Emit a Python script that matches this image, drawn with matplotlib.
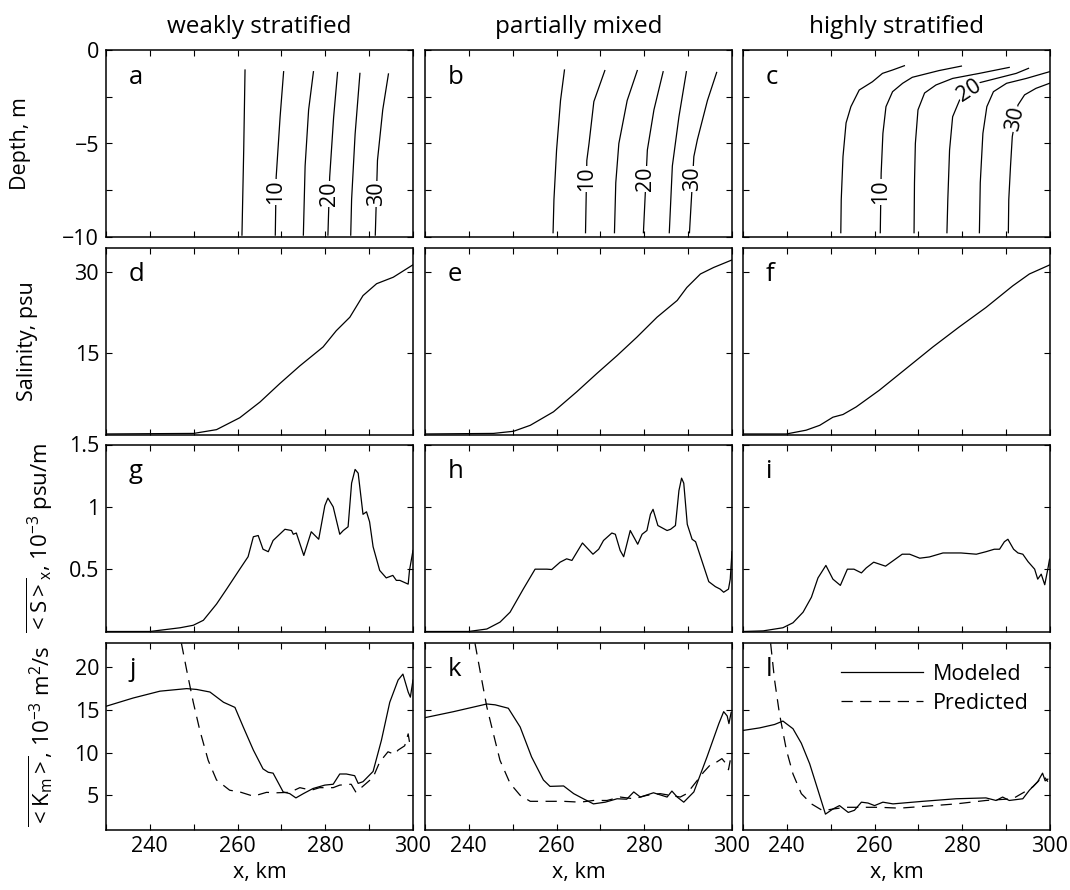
import numpy as np
import matplotlib
matplotlib.use("Agg")
import matplotlib.pyplot as plt

plt.rcParams['font.family'] = ['Open Sans', 'DejaVu Sans']
plt.rcParams['mathtext.fontset'] = 'custom'
plt.rcParams['mathtext.rm'] = 'Open Sans'
plt.rcParams['mathtext.it'] = 'Open Sans:italic'
plt.rcParams['font.size'] = 15.5

titles = ['weakly stratified', 'partially mixed', 'highly stratified']
letters = ['abc', 'def', 'ghi', 'jkl']

# isohaline positions (x km, depth m), levels 5..30 psu, one list per panel
iso_a = [
    ([261.7, 261.4, 261.0], [-1.07, -5.35, -9.9]),
    ([270.5, 269.7, 268.8, 268.6], [-1.16, -3.57, -6.8, -9.9]),
    ([277.3, 276.2, 275.4, 275.0], [-1.16, -3.2, -6.2, -9.9]),
    ([282.8, 281.9, 281.0, 280.6], [-1.2, -3.6, -6.8, -9.9]),
    ([287.9, 286.8, 286.0, 285.8], [-1.25, -4.5, -8.0, -9.9]),
    ([294.4, 293.1, 291.9, 291.4], [-1.28, -3.2, -5.9, -9.9]),
]
iso_b = [
    ([261.8, 260.9, 260.0, 259.4, 259.2], [-1.07, -2.7, -5.35, -8.0, -9.77]),
    ([271.0, 268.5, 267.4, 266.9, 266.6], [-1.1, -2.76, -5.0, -5.9, -9.77]),
    ([278.4, 276.1, 274.2, 273.5, 273.2], [-1.1, -2.7, -5.0, -7.1, -9.77]),
    ([284.3, 282.2, 280.7, 279.8], [-1.16, -3.2, -5.35, -9.77]),
    ([289.6, 287.9, 286.4, 285.7], [-1.16, -3.57, -6.2, -9.77]),
    ([296.5, 294.4, 292.1, 291.3, 290.3], [-1.2, -2.7, -4.8, -5.7, -9.77]),
]
iso_c = [
    ([266.8, 264.1, 261.8, 259.5, 256.5, 254.6, 253.5, 252.8, 252.4, 252.3],
     [-0.84, -1.07, -1.25, -1.7, -2.14, -3.03, -3.9, -5.7, -8.0, -9.77]),
    ([279.8, 274.7, 268.6, 266.4, 264.1, 262.6, 261.9, 261.5, 261.3],
     [-0.86, -1.1, -1.46, -1.78, -2.23, -3.03, -4.46, -6.6, -9.77]),
    ([290.7, 283.9, 277.8, 274.0, 271.4, 269.9, 269.3, 269.1, 269.0],
     [-0.93, -1.25, -1.52, -1.87, -2.3, -3.2, -5.0, -7.1, -9.77]),
    ([295.1, 292.3, 283.9, 279.4, 277.8, 277.1, 276.7, 276.5],
     [-0.98, -1.25, -1.75, -2.67, -3.57, -5.35, -8.0, -9.77]),
    ([299.9, 294.6, 290.1, 287.1, 285.6, 284.7, 284.1, 283.9],
     [-1.16, -1.52, -1.78, -2.23, -3.03, -4.46, -7.1, -9.77]),
    ([299.9, 296.8, 294.2, 292.7, 291.4, 291.0, 290.6, 290.5],
     [-1.78, -2.05, -2.4, -2.94, -4.63, -6.2, -8.0, -9.77]),
]
# contour labels: (line index, text, depth, rotation)
lab_a = [(1, '10', -7.6, 90), (3, '20', -7.7, 90), (5, '30', -7.7, 90)]
lab_b = [(1, '10', -6.9, 90), (3, '20', -6.9, 90), (5, '30', -6.9, 90)]
lab_c = [(1, '10', -7.6, 90), (3, '20', -2.2, 33), (5, '30', -3.7, 78)]

# depth-averaged salinity
sal_x_d = [230, 250, 255.2, 260.5, 265.1, 269.6, 274.2, 279.5, 282.5, 285.6, 288.6, 291.7, 295.5, 300]
sal_d = [0.1, 0.2, 0.9, 3.1, 6.0, 9.4, 12.7, 16.2, 19.2, 21.7, 25.7, 27.9, 29.1, 31.4]
sal_x_e = [230, 245.6, 250.2, 254, 259.3, 264.6, 269.2, 273.8, 278.3, 282.9, 287.5, 289.7, 292.8, 295.8, 300]
sal_e = [0.1, 0.2, 0.6, 1.7, 4.2, 7.9, 11.3, 14.6, 18.0, 21.7, 24.8, 27.2, 29.7, 30.9, 32.3]
sal_x_f = [230, 239.9, 244.4, 247.5, 250.5, 252.8, 255.8, 261.1, 267.2, 273.3, 279.3, 285.4, 291.5, 295.3, 300]
sal_f = [0.1, 0.1, 0.8, 1.7, 3.2, 3.7, 5.1, 8.2, 12.2, 16.2, 19.9, 23.5, 27.5, 29.7, 31.4]

# along-channel salinity gradient, 1e-3 psu/m
sx_x_g = [230, 240, 246.9, 249.9, 252.2, 255.2, 257.5, 260.5, 262.4, 263.6, 264.7, 265.8, 267,
          268.1, 269.3, 270.8, 272.3, 272.7, 273.4, 275.1, 276.8, 278.5, 279.9, 280.6, 281.8,
          283.3, 284.1, 285.2, 286, 286.8, 287.5, 288.6, 289.4, 290.1, 290.9, 292.4, 293.9,
          295.4, 296.2, 297, 298.9, 299.2, 300]
sx_g = [0.0, 0.0, 0.03, 0.05, 0.09, 0.22, 0.34, 0.50, 0.60, 0.76, 0.77, 0.66, 0.64,
        0.73, 0.77, 0.82, 0.81, 0.78, 0.79, 0.61, 0.80, 0.74, 1.01, 1.07, 1.00,
        0.78, 0.81, 0.84, 1.19, 1.30, 1.27, 0.94, 0.96, 0.88, 0.68, 0.49, 0.43,
        0.45, 0.41, 0.41, 0.38, 0.49, 0.65]
sx_x_h = [230, 239.9, 244.1, 247.1, 249.4, 252.4, 255.1, 257.8, 258.9, 260.8, 262.3, 263.5,
          265.9, 268.3, 269.6, 270.7, 272.6, 273.4, 274.5, 275.3, 276.8, 278.5, 279.5, 280.6,
          281.4, 282, 283.1, 285.2, 286, 287.1, 287.9, 288.5, 289, 289.8, 290.9, 291.7,
          293.2, 294.7, 296.2, 297.3, 298.1, 299.2, 299.6, 300]
sx_h = [0.0, 0.0, 0.02, 0.075, 0.155, 0.34, 0.50, 0.50, 0.497, 0.556, 0.583, 0.57,
        0.71, 0.62, 0.66, 0.73, 0.79, 0.78, 0.65, 0.60, 0.81, 0.70, 0.78, 0.81,
        0.94, 0.98, 0.85, 0.81, 0.82, 0.85, 1.13, 1.23, 1.19, 0.86, 0.74, 0.72,
        0.56, 0.40, 0.36, 0.34, 0.315, 0.34, 0.42, 0.64]
sx_x_i = [230, 234.6, 239.1, 241.4, 243.7, 245.6, 247.1, 248.9, 250.5, 252.2, 253.8, 255.3,
          257, 258.1, 259.8, 262.5, 264.6, 266.3, 268, 270.3, 272.5, 275.6, 279.7, 283.2,
          285.4, 287.3, 288.5, 289.6, 290.4, 291.7, 292.7, 293.8, 295, 296.5, 297.2, 298,
          298.8, 299.5, 299.9]
sx_i = [0.0, 0.005, 0.03, 0.07, 0.155, 0.275, 0.43, 0.53, 0.42, 0.37, 0.50, 0.50,
        0.47, 0.51, 0.556, 0.524, 0.577, 0.62, 0.62, 0.588, 0.598, 0.63, 0.63, 0.62,
        0.64, 0.66, 0.66, 0.72, 0.74, 0.66, 0.63, 0.62, 0.56, 0.50, 0.42, 0.46,
        0.375, 0.50, 0.58]

# eddy viscosity, 1e-3 m2/s: modeled and predicted
km_x_j = [230, 236.2, 242.3, 248.4, 250.7, 253.7, 256.8, 259.4, 261.3, 263.6, 265.8, 267,
          268.1, 270.4, 271.9, 273.3, 275, 277.2, 279.9, 281.8, 283.3, 284.8, 286.7, 287.5,
          288.6, 290.9, 292.8, 294.7, 296.6, 297.7, 298.9, 299.4, 300]
km_j = [15.43, 16.4, 17.2, 17.5, 17.4, 17.1, 15.9, 15.3, 13.0, 10.3, 8.1, 7.7,
        7.6, 5.4, 5.2, 4.7, 5.2, 5.8, 6.2, 6.3, 7.5, 7.5, 7.3, 6.4,
        6.6, 7.8, 11.45, 15.9, 18.5, 19.2, 17.1, 16.5, 18.5]
kp_x_j = [247.2, 248.4, 249.9, 251.4, 253.3, 255.2, 258.2, 260.5, 263.6, 266.6, 268.9, 271.9,
          274.2, 276.8, 278.7, 281.8, 283.3, 285.9, 287, 288.2, 290.9, 292.4, 294.3, 295.8,
          296.6, 298.1, 298.9, 299.4]
kp_j = [22.8, 19.65, 15.9, 12.6, 9.1, 6.8, 5.6, 5.4, 4.9, 5.35, 5.3, 5.35,
        5.9, 5.6, 5.9, 5.9, 6.2, 6.3, 5.35, 5.9, 7.1, 8.9, 10.1, 9.8,
        10.3, 10.8, 12.2, 10.6]
km_x_k = [230, 236.5, 244.1, 246, 249, 251.7, 254.3, 257, 258.5, 261.6, 263.9, 266.1,
          268.4, 271.1, 273.8, 276, 277.6, 279.1, 282.1, 285.2, 286.3, 287.5, 289, 291.3,
          294.3, 297, 298.1, 298.9, 299.3, 299.8]
km_k = [14.1, 14.8, 15.7, 15.6, 15.2, 13.0, 9.5, 6.8, 6.05, 6.1, 5.2, 4.6,
        4.0, 4.2, 4.6, 4.55, 5.4, 4.8, 5.3, 4.8, 5.5, 4.8, 4.2, 5.4,
        9.5, 13.4, 14.8, 14.3, 13.4, 14.7]
kp_x_k = [241.4, 242.6, 244.1, 245.6, 247.1, 249.4, 251.7, 254, 257.8, 261.6, 265.4, 268.4,
          271.5, 274.5, 277.6, 280.6, 283.6, 285.9, 288.2, 289.7, 292, 293.5, 295.1, 296.2,
          297.7, 298.5, 299.2, 299.6]
kp_k = [22.8, 19.45, 15.35, 12.2, 9.1, 6.4, 5.0, 4.3, 4.3, 4.3, 4.2, 4.4,
        4.4, 4.8, 4.6, 5.0, 5.2, 5.0, 4.8, 5.2, 6.7, 7.7, 8.6, 8.8,
        9.3, 8.8, 8.0, 9.1]
km_x_l = [230, 233.8, 237.2, 239.1, 241.4, 243.3, 245.2, 247.1, 248.8, 250.5, 252, 254,
          255.4, 257, 258.5, 260, 261.9, 264.2, 271, 278.6, 285.4, 287.7, 289.2, 290.7,
          293.8, 295.3, 297.2, 298.3, 298.9, 299.5]
km_l = [12.6, 12.9, 13.3, 13.7, 12.8, 11.1, 8.7, 5.6, 2.8, 3.4, 3.8, 3.0,
        3.25, 4.2, 4.1, 3.8, 4.2, 4.0, 4.3, 4.6, 4.7, 4.4, 4.8, 4.4,
        4.6, 5.6, 6.6, 7.6, 6.7, 6.9]
kp_x_l = [236.3, 237.2, 238.3, 239.9, 241.4, 243.3, 245.6, 248.2, 250.5, 253.5, 257.3, 261.1,
          265.7, 271, 278.6, 285.4, 291.5, 294.2, 296.1, 297.6, 298.7, 299.5]
kp_l = [22.8, 18.5, 14.6, 10.3, 7.5, 5.2, 4.0, 3.2, 3.4, 3.6, 3.6, 3.6,
        3.5, 3.7, 4.0, 4.4, 4.6, 5.4, 6.0, 6.8, 7.2, 6.6]

iso_all = [iso_a, iso_b, iso_c]
lab_all = [lab_a, lab_b, lab_c]
sal_all = [(sal_x_d, sal_d), (sal_x_e, sal_e), (sal_x_f, sal_f)]
sx_all = [(sx_x_g, sx_g), (sx_x_h, sx_h), (sx_x_i, sx_i)]
km_all = [(km_x_j, km_j, kp_x_j, kp_j), (km_x_k, km_k, kp_x_k, kp_k), (km_x_l, km_l, kp_x_l, kp_l)]

W, H = 1070, 890
fig = plt.figure(figsize=(W / 100, H / 100), dpi=100)
lefts = [106, 425, 743]
tops = [50, 247.5, 444.5, 642.5]
aw, ah = 307, 187

lw = 0.9
dash = (0, (9, 6))
axes = []
for r in range(4):
    row = []
    for c in range(3):
        ax = fig.add_axes([lefts[c] / W, 1 - (tops[r] + ah) / H, aw / W, ah / H])
        ax.set_xlim(230, 300)
        ax.set_xticks(np.arange(230, 301, 10))
        if r == 3:
            ax.set_xticklabels(['' if v % 20 else str(v) for v in range(230, 301, 10)])
            ax.set_xlabel('x, km', labelpad=3)
        else:
            ax.set_xticklabels([])
        ax.tick_params(direction='in', top=True, right=True, length=4, width=0.8, pad=5)
        for s in ax.spines.values():
            s.set_linewidth(1.1)
        ax.text(0.075, 0.855, letters[r][c], transform=ax.transAxes, fontsize=18.5, va='center')
        row.append(ax)
    axes.append(row)

for c in range(3):
    ax = axes[0][c]
    ax.set_title(titles[c], fontsize=17.5, pad=12)
    for xs, zs in iso_all[c]:
        ax.plot(xs, zs, color='k', lw=lw)
    for idx, txt, zl, rot in lab_all[c]:
        xs, zs = iso_all[c][idx]
        xl = np.interp(zl, zs[::-1], xs[::-1])
        ax.text(xl, zl, txt, rotation=rot, ha='center', va='center', fontsize=15.5,
                bbox=dict(facecolor='white', edgecolor='none', pad=0.5), zorder=3)
    ax.set_ylim(-10, 0)
    ax.set_yticks([-10, -7.5, -5, -2.5, 0])
    ax.set_yticklabels(['\u221210', '', '\u22125', '', '0'] if c == 0 else [])

    ax = axes[1][c]
    ax.plot(*sal_all[c], color='k', lw=lw)
    ax.set_ylim(0, 34.6)
    ax.set_yticks([15, 30])
    ax.set_yticklabels(['15', '30'] if c == 0 else [])

    ax = axes[2][c]
    ax.plot(*sx_all[c], color='k', lw=lw)
    ax.set_ylim(0, 1.5)
    ax.set_yticks([0.5, 1, 1.5])
    ax.set_yticklabels(['0.5', '1', '1.5'] if c == 0 else [])

    ax = axes[3][c]
    mx, my, px, py = km_all[c]
    ax.plot(mx, my, color='k', lw=lw, label='Modeled')
    ax.plot(px, py, color='k', lw=lw, ls=dash, label='Predicted')
    ax.set_ylim(1, 22.9)
    ax.set_yticks([5, 10, 15, 20])
    ax.set_yticklabels(['5', '10', '15', '20'] if c == 0 else [])

axes[3][2].legend(loc='upper right', frameon=False, handlelength=3.8, fontsize=15.5,
                  borderaxespad=0.5, labelspacing=0.35, handletextpad=0.45, borderpad=0.5)

axes[0][0].set_ylabel('Depth, m')
axes[1][0].set_ylabel('Salinity, psu')
axes[2][0].set_ylabel(r'$\overline{\mathrm{<S>}}_\mathrm{x}$, 10$^{-3}$ psu/m', fontsize=16)
axes[3][0].set_ylabel(r'$\overline{\mathrm{<K}_\mathrm{m}\mathrm{>}}$, 10$^{-3}$ m$^2$/s', fontsize=16)
axes[0][0].yaxis.set_label_coords(-0.245, 0.5)
axes[1][0].yaxis.set_label_coords(-0.22, 0.5)
axes[2][0].yaxis.set_label_coords(-0.165, 0.5)
axes[3][0].yaxis.set_label_coords(-0.165, 0.5)

fig.savefig('out.png', dpi=100)
